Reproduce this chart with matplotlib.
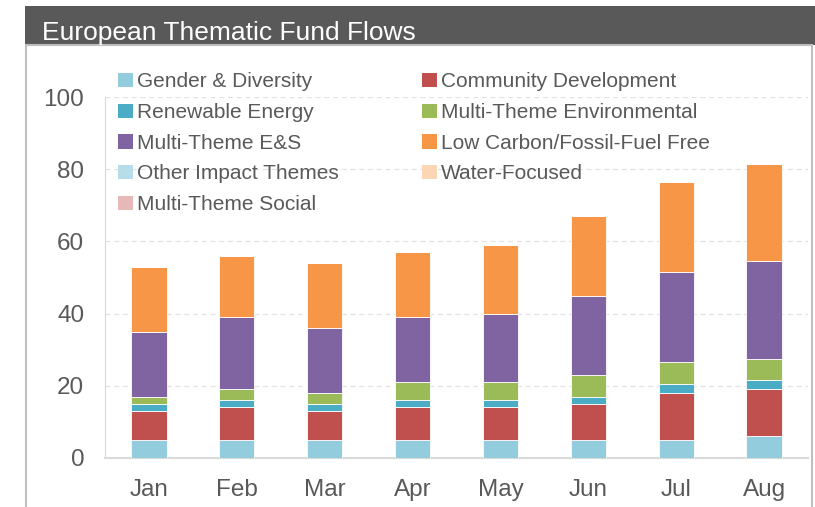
import matplotlib
matplotlib.use("Agg")
import matplotlib.pyplot as plt
from matplotlib.patches import Rectangle, Patch
import numpy as np

plt.rcParams['font.family'] = ['Liberation Sans', 'DejaVu Sans']

# data
months = ['Jan', 'Feb', 'Mar', 'Apr', 'May', 'Jun', 'Jul', 'Aug']
gender = [5, 5, 5, 5, 5, 5, 5, 6]
community = [8, 9, 8, 9, 9, 10, 13, 13]
renewable = [2, 2, 2, 2, 2, 2, 2.5, 2.5]
multi_env = [2, 3, 3, 5, 5, 6, 6, 6]
multi_es = [18, 20, 18, 18, 19, 22, 25, 27]
low_carbon = [18, 17, 18, 18, 19, 22, 25, 27]
other_impact = [0, 0, 0, 0, 0, 0, 0, 0]
water = [0, 0, 0, 0, 0, 0, 0, 0]
multi_social = [0, 0, 0, 0, 0, 0, 0, 0]

series = [
    ('Gender & Diversity', gender, '#93CDDD'),
    ('Community Development', community, '#C0504D'),
    ('Renewable Energy', renewable, '#4BACC6'),
    ('Multi-Theme Environmental', multi_env, '#9BBB59'),
    ('Multi-Theme E&S', multi_es, '#8064A2'),
    ('Low Carbon/Fossil-Fuel Free', low_carbon, '#F79646'),
    ('Other Impact Themes', other_impact, '#B7DEE8'),
    ('Water-Focused', water, '#FCD5B5'),
    ('Multi-Theme Social', multi_social, '#E6B9B8'),
]

txt = '#595959'
fig = plt.figure(figsize=(8.15, 5.07), dpi=100)

# title bar and panel frame
fig.patches.append(Rectangle((25/815, 1 - 45/507), 1, 39/507, transform=fig.transFigure,
                             facecolor='#595959', edgecolor='none', zorder=0))
fig.patches.append(Rectangle((26/815, -0.02), (812-26)/815, 1 - 45/507 + 0.02,
                             transform=fig.transFigure, facecolor='none',
                             edgecolor='#BFBFBF', lw=1.5, zorder=0))
fig.text(42/815, 1 - 33/507, 'European Thematic Fund Flows', color='white',
         fontsize=19, va='center', ha='left')

ax = fig.add_axes([105/815, 1 - 458/507, (808-105)/815, (458-97)/507])

x = np.arange(len(months))
bottom = np.zeros(len(months))
handles = []
for name, vals, col in series:
    vals = np.array(vals, dtype=float)
    ax.bar(x, vals, 0.4, bottom=bottom, color=col, edgecolor='white', linewidth=0.6, zorder=3)
    bottom += vals
    handles.append(Patch(facecolor=col, edgecolor='none', label=name))

ax.set_xlim(-0.5, 7.5)
ax.set_ylim(0, 100)
ax.set_yticks(range(0, 101, 20))
ax.set_xticks(x)
ax.set_xticklabels(months)
ax.tick_params(axis='both', length=0, labelsize=17.5, labelcolor=txt)
ax.tick_params(axis='y', pad=15)
ax.tick_params(axis='x', pad=15)
ax.grid(axis='y', color='#E3E3E3', linestyle=(0, (4, 3)), lw=0.9, zorder=0)
for s in ['top', 'right']:
    ax.spines[s].set_visible(False)
ax.spines['left'].set_color('#D9D9D9')
ax.spines['bottom'].set_color('#D9D9D9')
ax.spines['bottom'].set_linewidth(1.5)

# legend: two columns placed separately
col1 = [handles[i] for i in [0, 2, 4, 6, 8]]
col2 = [handles[i] for i in [1, 3, 5, 7]]
leg_kw = dict(frameon=False, fontsize=15, labelcolor=txt, handlelength=0.7,
              handleheight=0.7, handletextpad=0.2, labelspacing=0.56, borderpad=0)
l1 = fig.legend(handles=col1, loc='upper left', bbox_to_anchor=(108/815, 1 - 62/507), **leg_kw)
l2 = fig.legend(handles=col2, loc='upper left', bbox_to_anchor=(412/815, 1 - 62/507), **leg_kw)

plt.savefig('out.png', dpi=100)
